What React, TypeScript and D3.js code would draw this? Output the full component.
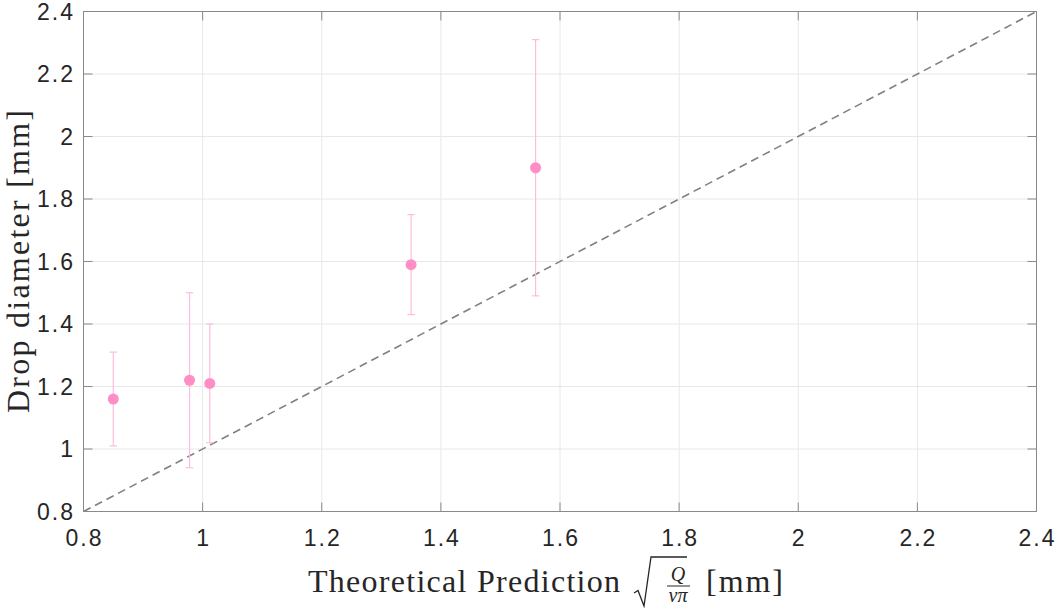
import React from "react";
import * as d3 from "d3";

const xTheory = [0.85, 0.978, 1.012, 1.35, 1.559];
const yMeasured = [1.16, 1.22, 1.21, 1.59, 1.9];
const yErrLow = [0.15, 0.28, 0.19, 0.16, 0.41];
const yErrHigh = [0.15, 0.28, 0.19, 0.16, 0.41];
const tickValues = [0.8, 1.0, 1.2, 1.4, 1.6, 1.8, 2.0, 2.2, 2.4];
const tickLabels = ["0.8", "1", "1.2", "1.4", "1.6", "1.8", "2", "2.2", "2.4"];
const domain: [number, number] = [0.8, 2.4];

const W = 1057;
const H = 608;
const L = 83.5;
const R = 1036.5;
const T = 11.5;
const B = 511.5;

const axisColor = "#8a8a8a";
const gridColor = "#e8e8e8";
const markerColor = "#ff8ec6";
const errColor = "#ffbcdc";
const textColor = "#262626";
const sans = "'Liberation Sans', Arial, Helvetica, sans-serif";
const serif = "'Liberation Serif', 'Times New Roman', serif";

export default function App() {
  const x = d3.scaleLinear().domain(domain).range([L, R]);
  const y = d3.scaleLinear().domain(domain).range([B, T]);
  const line = d3.line<number>().x((d) => x(d)).y((d) => y(d));
  const tickLen = 9;
  const ls = 2;
  return (
    <svg
      width={W}
      height={H}
      style={{ position: "fixed", left: 0, top: 0, background: "#fff" }}
    >
      <rect x={0} y={0} width={W} height={H} fill="#fff" />
      {tickValues.map((v, i) => (
        <g key={"g" + i}>
          <line x1={x(v)} x2={x(v)} y1={T} y2={B} stroke={gridColor} strokeWidth={1} />
          <line x1={L} x2={R} y1={y(v)} y2={y(v)} stroke={gridColor} strokeWidth={1} />
        </g>
      ))}
      <path
        d={line(domain as unknown as number[]) || ""}
        stroke="#808080"
        strokeWidth={1.6}
        strokeDasharray="8,5"
        fill="none"
      />
      {xTheory.map((xv, i) => {
        const cx = x(xv);
        const y1 = y(yMeasured[i] + yErrHigh[i]);
        const y2 = y(yMeasured[i] - yErrLow[i]);
        return (
          <g key={"e" + i} stroke={errColor} strokeWidth={1.2}>
            <line x1={cx} x2={cx} y1={y1} y2={y2} />
            <line x1={cx - 3.7} x2={cx + 3.7} y1={y1} y2={y1} />
            <line x1={cx - 3.7} x2={cx + 3.7} y1={y2} y2={y2} />
          </g>
        );
      })}
      {xTheory.map((xv, i) => (
        <circle key={"m" + i} cx={x(xv)} cy={y(yMeasured[i])} r={5.5} fill={markerColor} />
      ))}
      <rect x={L} y={T} width={R - L} height={B - T} fill="none" stroke={axisColor} strokeWidth={1} />
      {tickValues.map((v, i) => (
        <g key={"t" + i} stroke={axisColor} strokeWidth={1}>
          <line x1={x(v)} x2={x(v)} y1={B} y2={B - tickLen} />
          <line x1={x(v)} x2={x(v)} y1={T} y2={T + tickLen} />
          <line x1={L} x2={L + tickLen} y1={y(v)} y2={y(v)} />
          <line x1={R} x2={R - tickLen} y1={y(v)} y2={y(v)} />
        </g>
      ))}
      {tickValues.map((v, i) => (
        <text
          key={"xl" + i}
          x={x(v) + ls / 2}
          y={546}
          textAnchor="middle"
          fontFamily={sans}
          fontSize={23}
          letterSpacing={ls}
          fill={textColor}
        >
          {tickLabels[i]}
        </text>
      ))}
      {tickValues.map((v, i) => (
        <text
          key={"yl" + i}
          x={73 + ls}
          y={y(v) + 8.2}
          textAnchor="end"
          fontFamily={sans}
          fontSize={23}
          letterSpacing={ls}
          fill={textColor}
        >
          {tickLabels[i]}
        </text>
      ))}
      <text
        transform="translate(29,261.5) rotate(-90)"
        textAnchor="middle"
        fontFamily={serif}
        fontSize={32}
        textLength={303}
        lengthAdjust="spacing"
        fill={textColor}
      >
        Drop diameter [mm]
      </text>
      <g fill={textColor} fontFamily={serif}>
        <text x={308} y={592} fontSize={32} textLength={312} lengthAdjust="spacing">
          Theoretical Prediction
        </text>
        <path
          d="M634,593 L638,590.5 L644,606 L651,557 L687,557"
          fill="none"
          stroke={textColor}
          strokeWidth={1.3}
        />
        <text x={678} y={581} fontSize={20} fontStyle="italic" textAnchor="middle">Q</text>
        <line x1={667} x2={690} y1={586} y2={586} stroke={textColor} strokeWidth={1} />
        <text x={678} y={602} fontSize={20} fontStyle="italic" textAnchor="middle">vπ</text>
        <text x={706} y={592} fontSize={32} textLength={77} lengthAdjust="spacing">[mm]</text>
      </g>
    </svg>
  );
}
